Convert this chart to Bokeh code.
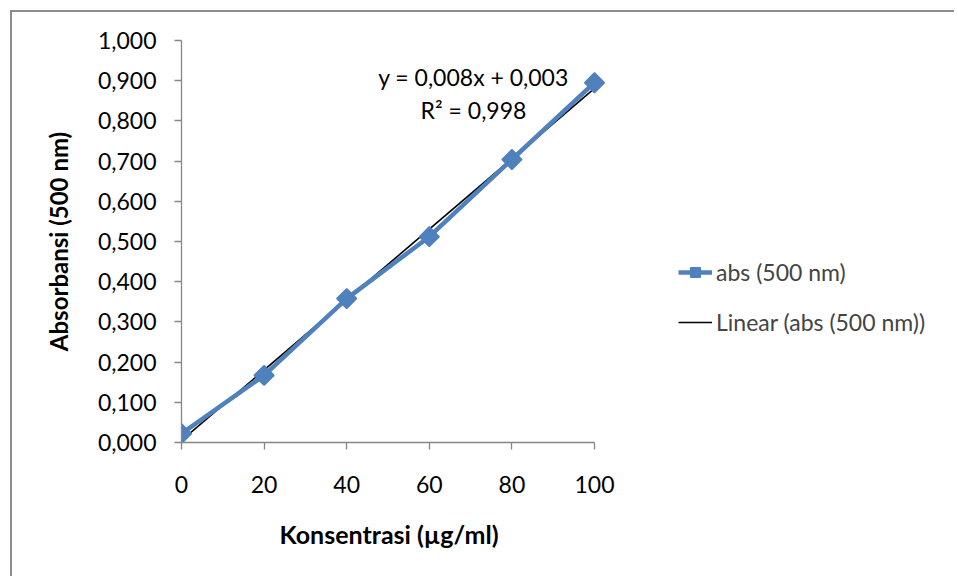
import numpy as np
from bokeh.plotting import figure
from bokeh.models import (Range1d, FixedTicker, CustomJSTickFormatter, Legend, LegendItem,
                          Label, Title)
from bokeh.embed import file_html
from bokeh.resources import INLINE

# ---- data ----
konsentrasi = [0, 20, 40, 60, 80, 100]
absorbansi = [0.022, 0.167, 0.358, 0.512, 0.704, 0.895]
x_ticks = [0, 20, 40, 60, 80, 100]
y_ticks = [0.0, 0.1, 0.2, 0.3, 0.4, 0.5, 0.6, 0.7, 0.8, 0.9, 1.0]
equation_text = "y = 0,008x + 0,003"
r2_text = "R² = 0,998"
series_name = "abs (500 nm)"
trend_name = "Linear (abs (500 nm))"
x_title = "Konsentrasi (µg/ml)"
y_title = "Absorbansi (500 nm)"

FONT = "Lato"
AXIS_COLOR = "#868686"
BLUE = "#4F81BD"

# linear trend from the data
slope, intercept = np.polyfit(konsentrasi, absorbansi, 1)
trend_x = [konsentrasi[0], konsentrasi[-1]]
trend_y = [slope * v + intercept for v in trend_x]

W, H = 944, 566
FL, FT = 169, 28
AXW = 413            # pixel length of the 0..100 axis
FW, FH = 765, 402    # frame extends to hold legend; axis line bounded to 0..100
x_end = 100.0 * FW / AXW

p = figure(width=W, height=H, output_backend="svg", toolbar_location=None,
           x_range=Range1d(0, x_end), y_range=Range1d(0, 1),
           min_border_left=FL, min_border_right=W - FL - FW,
           min_border_top=FT, min_border_bottom=H - FT - FH)
p.styles = {"margin-left": "10px", "margin-top": "10px",
            "border-left": "2px solid #8c8c8c", "border-top": "2px solid #8c8c8c"}
p.outline_line_color = None
p.grid.visible = False
p.background_fill_color = "white"
p.border_fill_color = "white"

trend = p.line(trend_x, trend_y, line_color="black", line_width=1.6)
ser_line = p.line(konsentrasi, absorbansi, line_color=BLUE, line_width=4.5)
ser_pts = p.scatter(konsentrasi, absorbansi, marker="square", angle=np.pi / 4,
                    size=14, fill_color=BLUE, line_color=BLUE, line_width=1.5)

# axes
for ax in (p.xaxis[0], p.yaxis[0]):
    ax.axis_line_color = AXIS_COLOR
    ax.axis_line_width = 1.3
    ax.major_tick_line_color = AXIS_COLOR
    ax.major_tick_line_width = 1.3
    ax.major_tick_out = 7
    ax.major_tick_in = 0
    ax.minor_tick_line_color = None
    ax.major_label_text_font = FONT
    ax.major_label_text_font_size = "23px"
    ax.major_label_text_color = "black"
    ax.axis_label_text_font = FONT
    ax.axis_label_text_font_size = "24px"
    ax.axis_label_text_font_style = "bold"
    ax.axis_label_text_color = "black"

p.xaxis.bounds = (0, 100)
p.xaxis.ticker = FixedTicker(ticks=x_ticks)
p.xaxis.major_label_standoff = 26

p.yaxis.ticker = FixedTicker(ticks=y_ticks)
p.yaxis.formatter = CustomJSTickFormatter(code="return tick.toFixed(3).replace('.', ',');")
p.yaxis.major_label_standoff = 18
p.yaxis.axis_label = y_title
p.yaxis.axis_label_standoff = 22

# x axis title, centred under the 0..100 axis (not the wider frame)
p.add_layout(Title(text=x_title, align="left", offset=98, standoff=42,
                   text_font=FONT, text_font_size="25px", text_font_style="bold",
                   text_color="black"), "below")

# regression labels
for txt, yv in ((equation_text, 0.910), (r2_text, 0.828)):
    p.add_layout(Label(x=70.7, y=yv, text=txt, text_font=FONT, text_font_size="23px",
                       text_align="center", text_baseline="middle", text_color="black"))

legend = Legend(items=[LegendItem(label=series_name, renderers=[ser_line, ser_pts]),
                       LegendItem(label=trend_name, renderers=[trend])],
                location=(497, 106), orientation="vertical",
                glyph_width=34, glyph_height=24, label_height=24,
                spacing=22, padding=0, margin=0, label_standoff=4,
                label_text_font=FONT, label_text_font_size="23px",
                border_line_color=None, background_fill_alpha=0)
p.add_layout(legend, "center")

open("out.html", "w").write(file_html(p, INLINE))
